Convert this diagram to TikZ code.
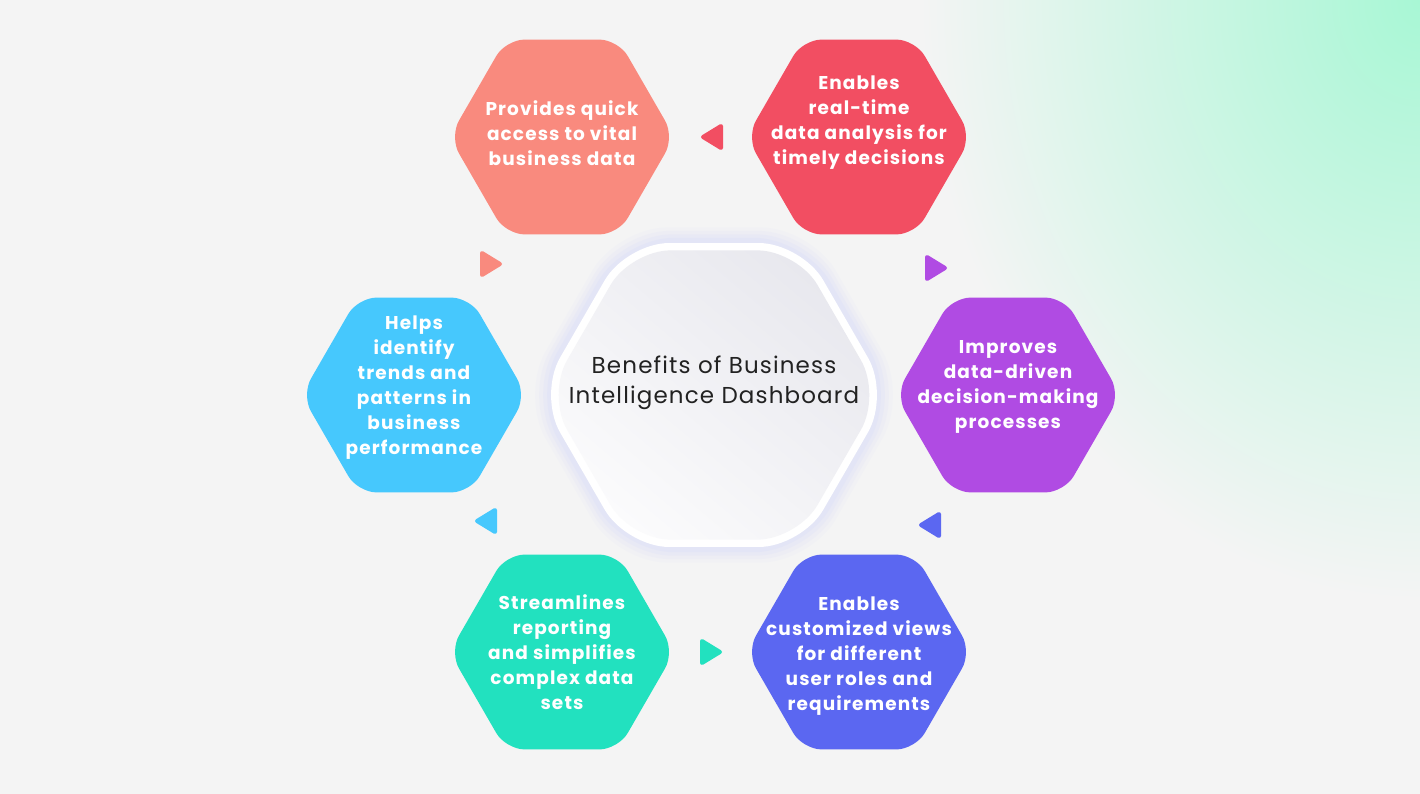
\documentclass[tikz,border=0pt]{standalone}
\usepackage{fontspec}
\setmainfont{Poppins}
\newfontfamily\lblfont[LetterSpace=6]{Poppins}
\newfontfamily\ctrfont[LetterSpace=5]{Poppins}
\usetikzlibrary{shapes.geometric}
\definecolor{bg}{HTML}{F4F4F4}
\definecolor{mint}{HTML}{A8F7D5}
\definecolor{coral}{HTML}{F98A7E}
\definecolor{rosered}{HTML}{F24E62}
\definecolor{violet}{HTML}{B04BE3}
\definecolor{indigo}{HTML}{5B67F1}
\definecolor{teal}{HTML}{22E1BF}
\definecolor{sky}{HTML}{46C8FD}
\definecolor{glow}{HTML}{DCE0F8}
\definecolor{ink}{HTML}{222222}
\definecolor{hexdark}{HTML}{E8E8EE}
\definecolor{hexlight}{HTML}{FBFBFC}
\begin{document}
\begin{tikzpicture}[x=1pt,y=-1pt,
  hexa/.style={regular polygon, regular polygon sides=6, minimum size=225pt,
    inner sep=0pt, outer sep=0pt, rounded corners=19pt, draw=none},
  lbl/.style={text=white, font=\lblfont\bfseries\fontsize{18.5}{25}\selectfont, align=center, inner sep=0pt},
  tri/.style={line width=4pt, line join=round}]
\useasboundingbox (0,0) rectangle (1420,794);
\fill[bg] (0,0) rectangle (1420,794);
\begin{scope}
  \clip (0,0) rectangle (1420,794);
  \shade[inner color=mint, outer color=bg] (1420,0) ellipse (500 and 600);
\end{scope}

% centre hexagon with glow
\foreach \k/\o in {36/0.12,28/0.18,20/0.25,12/0.35}
  \node[hexa, minimum size=351pt+\k pt, rounded corners=50pt, fill=glow, fill opacity=\o] at (714,395) {};
\node[hexa, minimum size=351pt, rounded corners=43pt, fill=white] (cb) at (714,395) {};
\node[hexa, minimum size=334pt, rounded corners=40pt, top color=hexdark, bottom color=hexlight, shading angle=-40] (c) at (714,395) {};
\node[text=ink, font=\ctrfont\fontsize{23}{29.5}\selectfont, align=center, inner sep=0pt] (ct) at (714,383)
  {Benefits of Business\\Intelligence Dashboard};

% outer hexagons
\node[hexa, fill=coral] (h1) at (562,137) {};
\node[hexa, fill=rosered] (h2) at (859,137) {};
\node[hexa, fill=violet] (h3) at (1008,395) {};
\node[hexa, fill=indigo] (h4) at (859,652) {};
\node[hexa, fill=teal] (h5) at (562,652) {};
\node[hexa, fill=sky] (h6) at (414,395) {};

\node[lbl] (t1) at (562,133) {Provides quick\\access to vital\\business data};
\node[lbl] (t2) at (859,123) {Enables\\real-time\\data analysis for\\timely decisions};
\node[lbl] (t3) at (1008,387) {Improves\\data-driven\\decision-making\\processes};
\node[lbl] (t4) at (859,656) {Enables\\customized views\\for different\\user roles and\\requirements};
\node[lbl] (t5) at (562,652) {Streamlines\\reporting\\and simplifies\\complex data\\sets};
\node[lbl] (t6) at (414,388) {Helps\\identify\\trends and\\patterns in\\business\\performance};

% triangle markers
\coordinate (a1) at (712,137);
\coordinate (a2) at (491,264);
\coordinate (a3) at (936,268);
\coordinate (a4) at (930,525);
\coordinate (a5) at (711,652);
\coordinate (a6) at (486,521);
\filldraw[tri, rosered, shift={(a1)}] (-9,0) -- (9,-11) -- (9,11) -- cycle;
\filldraw[tri, coral, shift={(a2)}] (9,0) -- (-9,-11) -- (-9,11) -- cycle;
\filldraw[tri, violet, shift={(a3)}] (9,0) -- (-9,-11) -- (-9,11) -- cycle;
\filldraw[tri, indigo, shift={(a4)}] (-9,0) -- (9,-11) -- (9,11) -- cycle;
\filldraw[tri, teal, shift={(a5)}] (9,0) -- (-9,-11) -- (-9,11) -- cycle;
\filldraw[tri, sky, shift={(a6)}] (-9,0) -- (9,-11) -- (9,11) -- cycle;
\end{tikzpicture}
\end{document}
